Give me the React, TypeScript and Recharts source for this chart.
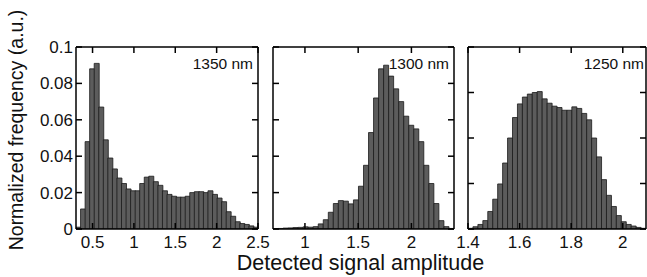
import { Bar, BarChart, XAxis, YAxis } from 'recharts';

// Histogram bins: each panel is an evenly binned histogram over its x range.
const RANGE_1350 = [0.3, 2.5];
const RANGE_1300 = [0.7, 2.4];
const RANGE_1250 = [1.4, 2.09];

// Normalized frequency per bin (left to right).
const FREQ_1350 = [
  0.001, 0.011, 0.048, 0.088, 0.091, 0.067, 0.049, 0.039, 0.033, 0.028,
  0.025, 0.022, 0.021, 0.021, 0.025, 0.0285, 0.029, 0.026, 0.024, 0.021,
  0.019, 0.018, 0.0175, 0.0175, 0.018, 0.02, 0.0205, 0.0205, 0.02, 0.021,
  0.019, 0.017, 0.015, 0.0095, 0.007, 0.004, 0.003, 0.0025, 0.0017, 0.001,
];
const FREQ_1300 = [
  0.0002, 0.0003, 0.0005, 0.0006, 0.0008, 0.0009, 0.0012, 0.001, 0.0013, 0.0028,
  0.0051, 0.0092, 0.014, 0.0156, 0.0153, 0.0138, 0.016, 0.0235, 0.035, 0.053,
  0.072, 0.088, 0.09, 0.084, 0.077, 0.07, 0.062, 0.057, 0.055, 0.048,
  0.035, 0.025, 0.014, 0.0046, 0.0013, 0.0003,
];
const FREQ_1250 = [
  0.0003, 0.001, 0.002, 0.0037, 0.0077, 0.0131, 0.0198, 0.029, 0.04, 0.049,
  0.055, 0.058, 0.0593, 0.06, 0.0604, 0.0572, 0.0553, 0.054, 0.0534, 0.0522,
  0.0522, 0.0537, 0.053, 0.0508, 0.048, 0.04, 0.0317, 0.0217, 0.0148, 0.0099,
  0.0059, 0.0032, 0.002, 0.0013, 0.0007, 0.0003,
];

const TICKS_1350 = [0.5, 1, 1.5, 2, 2.5];
const TICKS_1300 = [1, 1.5, 2];
const TICKS_1250 = [1.4, 1.6, 1.8, 2];
const Y_TICKS_5 = [0, 0.02, 0.04, 0.06, 0.08, 0.1];
const Y_TICKS_4 = [0, 0.02, 0.04, 0.06, 0.08];

const FONT = '"Liberation Sans", Arial, Helvetica, sans-serif';
const AXIS = { stroke: '#000', strokeWidth: 1.5 };
const TICK_TEXT = { fill: '#111', fontSize: 17, fontFamily: FONT };
// keeps the inward tick line, draws no label
const noLabel = () => <g />;

// bin centres from the range and the number of counts
function toBins(range: number[], freq: number[]) {
  const w = (range[1] - range[0]) / freq.length;
  return freq.map((y, i) => ({ x: range[0] + (i + 0.5) * w, y }));
}

interface PanelProps {
  left: number;
  width: number;
  yAxisWidth: number;
  rightAxisWidth: number;
  rightMargin: number;
  range: number[];
  freq: number[];
  xTicks: number[];
  yMax: number;
  yTicks: number[];
  showYLabels?: boolean;
}

function Panel(p: PanelProps) {
  const data = toBins(p.range, p.freq);
  return (
    <div style={{ position: 'absolute', left: p.left, top: 0 }}>
      <BarChart
        width={p.width}
        height={277}
        data={data}
        margin={{ top: 45, right: p.rightMargin, bottom: 18, left: 0 }}
        barCategoryGap={0}
        barGap={0}
      >
        <XAxis
          xAxisId="b"
          type="number"
          dataKey="x"
          domain={p.range}
          allowDataOverflow
          ticks={p.xTicks}
          interval={0}
          height={30}
          tickSize={-6}
          tickMargin={13}
          axisLine={AXIS}
          tickLine={AXIS}
          tick={TICK_TEXT}
        />
        <XAxis
          xAxisId="t"
          orientation="top"
          type="number"
          dataKey="x"
          domain={p.range}
          allowDataOverflow
          ticks={p.xTicks}
          interval={0}
          height={2}
          tickSize={-6}
          tick={noLabel}
          axisLine={AXIS}
          tickLine={AXIS}
        />
        <YAxis
          yAxisId="l"
          type="number"
          domain={[0, p.yMax]}
          allowDataOverflow
          ticks={p.yTicks}
          interval={0}
          width={p.yAxisWidth}
          tickSize={-6}
          tickMargin={9}
          tickFormatter={(v: number) => String(v)}
          axisLine={AXIS}
          tickLine={AXIS}
          tick={p.showYLabels ? TICK_TEXT : noLabel}
        />
        <YAxis
          yAxisId="r"
          orientation="right"
          type="number"
          domain={[0, p.yMax]}
          allowDataOverflow
          ticks={p.yTicks}
          interval={0}
          width={p.rightAxisWidth}
          tickSize={-6}
          tick={noLabel}
          axisLine={AXIS}
          tickLine={AXIS}
        />
        <Bar
          xAxisId="b"
          yAxisId="l"
          dataKey="y"
          fill="#5c5c5c"
          stroke="#1a1a1a"
          strokeWidth={0.8}
          isAnimationActive={false}
        />
      </BarChart>
    </div>
  );
}

export default function App() {
  return (
    <div
      style={{
        position: 'absolute',
        left: 0,
        top: 0,
        width: 647,
        height: 277,
        background: '#fff',
        overflow: 'hidden',
        fontFamily: FONT,
      }}
    >
      <style>{'.recharts-surface { overflow: visible; }'}</style>
      <Panel
        left={0}
        width={262}
        yAxisWidth={76}
        rightAxisWidth={2}
        rightMargin={2}
        range={RANGE_1350}
        freq={FREQ_1350}
        xTicks={TICKS_1350}
        yMax={0.1}
        yTicks={Y_TICKS_5}
        showYLabels
      />
      <Panel
        left={262}
        width={196}
        yAxisWidth={11}
        rightAxisWidth={2}
        rightMargin={2}
        range={RANGE_1300}
        freq={FREQ_1300}
        xTicks={TICKS_1300}
        yMax={0.1}
        yTicks={Y_TICKS_5}
      />
      <Panel
        left={458}
        width={189}
        yAxisWidth={10}
        rightAxisWidth={1}
        rightMargin={0}
        range={RANGE_1250}
        freq={FREQ_1250}
        xTicks={TICKS_1250}
        yMax={0.08}
        yTicks={Y_TICKS_4}
      />
      <svg
        width={647}
        height={277}
        style={{ position: 'absolute', left: 0, top: 0, pointerEvents: 'none' }}
      >
        <g fontFamily={FONT} fill="#111">
          <text transform="translate(22.5,130) rotate(-90)" textAnchor="middle" fontSize={19.5}>
            Normalized frequency (a.u.)
          </text>
          <text x={360.5} y={270} textAnchor="middle" fontSize={21.5}>
            Detected signal amplitude
          </text>
          <text x={253} y={69} textAnchor="end" fontSize={15.5}>
            1350 nm
          </text>
          <text x={449} y={69} textAnchor="end" fontSize={15.5}>
            1300 nm
          </text>
          <text x={644} y={69} textAnchor="end" fontSize={15.5}>
            1250 nm
          </text>
        </g>
      </svg>
    </div>
  );
}
